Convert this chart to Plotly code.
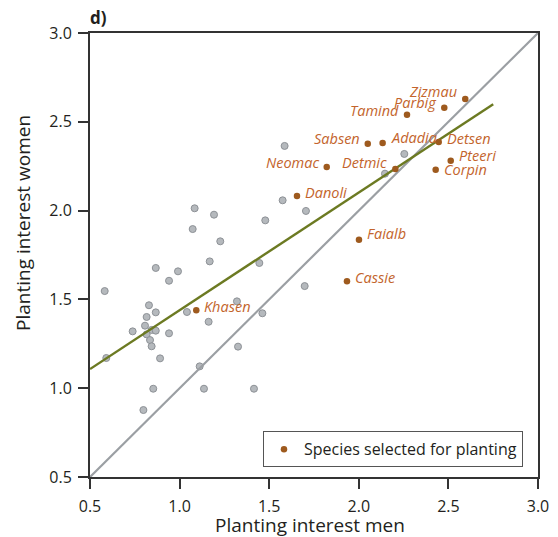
import plotly.graph_objects as go

# gray points: other species
gray_men = [1.586, 1.575, 1.705, 2.254, 2.146, 1.084, 1.192, 1.478, 1.073, 1.227,
            1.168, 1.445, 0.867, 0.991, 0.941, 0.582, 1.320, 0.829, 0.816, 0.867,
            1.041, 1.462, 1.162, 0.807, 0.738, 0.844, 0.867, 0.816, 0.941, 0.835,
            0.844, 0.591, 0.891, 1.326, 1.112, 0.853, 1.136, 1.415, 0.798, 1.698]
gray_women = [2.364, 2.058, 1.998, 2.319, 2.208, 2.013, 1.977, 1.945, 1.896, 1.827,
              1.714, 1.705, 1.677, 1.658, 1.605, 1.547, 1.489, 1.467, 1.401, 1.427,
              1.429, 1.422, 1.374, 1.352, 1.320, 1.328, 1.324, 1.303, 1.309, 1.271,
              1.236, 1.170, 1.168, 1.234, 1.123, 0.997, 0.997, 0.997, 0.877, 1.575]

# selected species
sel_names = ["Zizmau", "Parbig", "Tamind", "Sabsen", "Adadia", "Detsen", "Pteeri",
             "Corpin", "Detmic", "Neomac", "Danoli", "Faialb", "Cassie", "Khasen"]
sel_men = [2.594, 2.477, 2.269, 2.050, 2.133, 2.446, 2.513, 2.429, 2.204, 1.821,
           1.655, 2.001, 1.934, 1.093]
sel_women = [2.628, 2.579, 2.540, 2.377, 2.381, 2.386, 2.281, 2.230, 2.234, 2.245,
             2.082, 1.836, 1.602, 1.439]
label_side = ["left", "left", "left", "left", "right", "right", "right",
              "right", "left", "left", "right", "right", "right", "right"]
label_up = [8, 5, 4, 5, 5, 4, 5, 0, 7, 5, 4, 6, 4, 4]

# regression fit
fit_x = [0.5, 2.75]
fit_slope = 0.663
fit_intercept = 0.776
diag = [0.5, 3.0]

FONT = "Open Sans"
DARK = "#231f20"

fig = go.Figure()
fig.add_trace(go.Scatter(x=gray_men, y=gray_women, mode="markers", showlegend=False,
                         marker=dict(size=7, color="#b5b9bd",
                                     line=dict(color="#8d9196", width=1)),
                         hoverinfo="skip"))
fig.add_trace(go.Scatter(x=diag, y=diag, mode="lines", showlegend=False,
                         line=dict(color="#9b9fa3", width=2.2)))
fig.add_trace(go.Scatter(x=fit_x, y=[fit_intercept + fit_slope * v for v in fit_x],
                         mode="lines", showlegend=False,
                         line=dict(color="#6c7a22", width=2.4)))
fig.add_trace(go.Scatter(x=sel_men, y=sel_women, mode="markers",
                         name="Species selected for planting",
                         marker=dict(size=6.5, color="#9e5a1e")))

for n, xv, yv, side, up in zip(sel_names, sel_men, sel_women, label_side, label_up):
    fig.add_annotation(x=xv, y=yv, text=n, showarrow=False,
                       xanchor="right" if side == "left" else "left",
                       yanchor="middle",
                       xshift=-6 if side == "left" else 6, yshift=up,
                       font=dict(family=FONT, size=14.5, color="#c3642c",
                                 style="italic"))

fig.add_annotation(x=0.0, y=1.0, xref="paper", yref="paper", text="<b>d)</b>",
                   showarrow=False, xanchor="left", yanchor="bottom", yshift=2,
                   xshift=-2,
                   font=dict(family=FONT, size=17, color=DARK))

# axis titles (placed as in the reference)
fig.add_annotation(x=-0.1496, y=0.572, xref="paper", yref="paper",
                   text="Planting interest women", textangle=-90, showarrow=False,
                   xanchor="center", yanchor="middle",
                   font=dict(family=FONT, size=19, color=DARK))
fig.add_annotation(x=0.491, y=0.0, xref="paper", yref="paper",
                   text="Planting interest men", showarrow=False,
                   xanchor="center", yanchor="middle", yshift=-48,
                   font=dict(family=FONT, size=19, color=DARK))

axis_common = dict(range=[0.5, 3.0], dtick=0.5, tick0=0.5, tickformat=".1f",
                   showgrid=False, zeroline=False, showline=True, linewidth=2,
                   linecolor="#333333", mirror=True, ticks="outside", ticklen=10,
                   tickwidth=2, tickcolor="#333333", automargin=False,
                   tickfont=dict(family=FONT, size=16, color=DARK))

fig.update_xaxes(**axis_common, ticklabelstandoff=4)
fig.update_yaxes(**axis_common, ticklabelstandoff=3)

fig.update_layout(
    width=558, height=537,
    margin=dict(l=90, r=20, t=33, b=60),
    plot_bgcolor="white", paper_bgcolor="white",
    legend=dict(x=0.9665, y=0.022, xanchor="right", yanchor="bottom",
                bgcolor="white", bordercolor="#555555", borderwidth=1,
                font=dict(family=FONT, size=16, color=DARK),
                itemwidth=30),
)

fig.write_html("out.html")
